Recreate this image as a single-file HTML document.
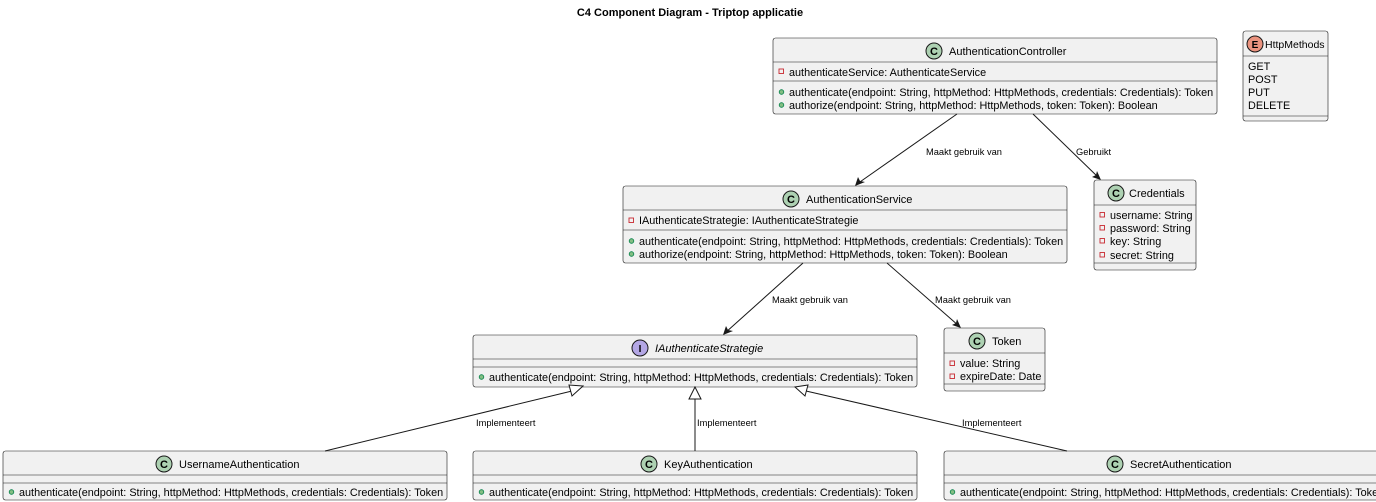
<!DOCTYPE html>
<html><head><meta charset="utf-8"><style>
html,body{margin:0;padding:0;background:#fff;}
svg{display:block;font-family:"Liberation Sans",Arial,sans-serif;}
.b{fill:#F1F1F1;stroke:#181818;stroke-width:0.6;}
.s{stroke:#181818;stroke-width:0.6;}
.t{font-size:10.85px;fill:#000;}
.l{font-size:9.3px;fill:#000;}
.h{font-size:11px;fill:#000;}
.e{stroke:#181818;stroke-width:1;fill:none;}
.pr{fill:none;stroke:#C82930;stroke-width:0.9;}
.pu{fill:#84BE84;stroke:#038048;stroke-width:0.8;}
</style></head><body>
<svg width="1376" height="502" viewBox="0 0 1376 502">
<text x="690" y="16" text-anchor="middle" style="font-size:11px;font-weight:bold">C4 Component Diagram - Triptop applicatie</text>

<!-- AuthenticationController -->
<rect class="b" x="773" y="38" width="444" height="76" rx="2.5"/>
<line class="s" x1="773" y1="62" x2="1217" y2="62"/>
<line class="s" x1="773" y1="81" x2="1217" y2="81"/>
<circle cx="934" cy="51" r="8" fill="#ADD1B2" stroke="#181818" stroke-width="1"/>
<text x="934" y="55" text-anchor="middle" style="font-size:11px;font-weight:bold">C</text>
<text class="h" x="949" y="55">AuthenticationController</text>
<rect class="pr" x="779" y="69" width="4.5" height="4.5"/>
<text class="t" x="789" y="76">authenticateService: AuthenticateService</text>
<circle class="pu" cx="781.5" cy="92" r="2.3"/>
<text class="t" x="789" y="96">authenticate(endpoint: String, httpMethod: HttpMethods, credentials: Credentials): Token</text>
<circle class="pu" cx="781.5" cy="105" r="2.3"/>
<text class="t" x="789" y="109">authorize(endpoint: String, httpMethod: HttpMethods, token: Token): Boolean</text>

<!-- HttpMethods -->
<rect class="b" x="1243" y="31" width="85" height="90" rx="2.5"/>
<line class="s" x1="1243" y1="56" x2="1328" y2="56"/>
<line class="s" x1="1243" y1="116" x2="1328" y2="116"/>
<circle cx="1255" cy="44" r="8" fill="#EB937F" stroke="#181818" stroke-width="1"/>
<text x="1255" y="48" text-anchor="middle" style="font-size:10px;font-weight:bold">E</text>
<text x="1265" y="48" style="font-size:10.5px">HttpMethods</text>
<text class="t" x="1248" y="70">GET</text>
<text class="t" x="1248" y="83">POST</text>
<text class="t" x="1248" y="96">PUT</text>
<text class="t" x="1248" y="109">DELETE</text>

<!-- AuthenticationService -->
<rect class="b" x="623" y="186" width="444" height="77" rx="2.5"/>
<line class="s" x1="623" y1="210" x2="1067" y2="210"/>
<line class="s" x1="623" y1="230" x2="1067" y2="230"/>
<circle cx="791" cy="199" r="8" fill="#ADD1B2" stroke="#181818" stroke-width="1"/>
<text x="791" y="203" text-anchor="middle" style="font-size:11px;font-weight:bold">C</text>
<text class="h" x="806" y="203">AuthenticationService</text>
<rect class="pr" x="629" y="218" width="4.5" height="4.5"/>
<text class="t" x="639" y="224">IAuthenticateStrategie: IAuthenticateStrategie</text>
<circle class="pu" cx="631.5" cy="241" r="2.3"/>
<text class="t" x="639" y="245">authenticate(endpoint: String, httpMethod: HttpMethods, credentials: Credentials): Token</text>
<circle class="pu" cx="631.5" cy="254" r="2.3"/>
<text class="t" x="639" y="258">authorize(endpoint: String, httpMethod: HttpMethods, token: Token): Boolean</text>

<!-- Credentials -->
<rect class="b" x="1094" y="180" width="102" height="90" rx="2.5"/>
<line class="s" x1="1094" y1="205" x2="1196" y2="205"/>
<line class="s" x1="1094" y1="263" x2="1196" y2="263"/>
<circle cx="1116" cy="193" r="8" fill="#ADD1B2" stroke="#181818" stroke-width="1"/>
<text x="1116" y="197" text-anchor="middle" style="font-size:11px;font-weight:bold">C</text>
<text class="h" x="1129" y="197">Credentials</text>
<rect class="pr" x="1100" y="212.5" width="4.5" height="4.5"/>
<text class="t" x="1110" y="219">username: String</text>
<rect class="pr" x="1100" y="225.5" width="4.5" height="4.5"/>
<text class="t" x="1110" y="232">password: String</text>
<rect class="pr" x="1100" y="238.5" width="4.5" height="4.5"/>
<text class="t" x="1110" y="245">key: String</text>
<rect class="pr" x="1100" y="252.5" width="4.5" height="4.5"/>
<text class="t" x="1110" y="259">secret: String</text>

<!-- IAuthenticateStrategie -->
<rect class="b" x="473" y="335" width="444" height="52" rx="2.5"/>
<line class="s" x1="473" y1="359" x2="917" y2="359"/>
<line class="s" x1="473" y1="367" x2="917" y2="367"/>
<circle cx="640" cy="348" r="8" fill="#B4A7E5" stroke="#181818" stroke-width="1"/>
<text x="640" y="352" text-anchor="middle" style="font-size:10px;font-weight:bold">I</text>
<text class="h" x="655" y="352" font-style="italic">IAuthenticateStrategie</text>
<circle class="pu" cx="481.5" cy="377" r="2.3"/>
<text class="t" x="489" y="381">authenticate(endpoint: String, httpMethod: HttpMethods, credentials: Credentials): Token</text>

<!-- Token -->
<rect class="b" x="944" y="328" width="101" height="63" rx="2.5"/>
<line class="s" x1="944" y1="353" x2="1045" y2="353"/>
<line class="s" x1="944" y1="384" x2="1045" y2="384"/>
<circle cx="977" cy="341" r="8" fill="#ADD1B2" stroke="#181818" stroke-width="1"/>
<text x="977" y="345" text-anchor="middle" style="font-size:11px;font-weight:bold">C</text>
<text class="h" x="992" y="345">Token</text>
<rect class="pr" x="950" y="361" width="4.5" height="4.5"/>
<text class="t" x="960" y="367">value: String</text>
<rect class="pr" x="950" y="374" width="4.5" height="4.5"/>
<text class="t" x="960" y="380">expireDate: Date</text>

<!-- Bottom classes -->
<rect class="b" x="3" y="451" width="444" height="49" rx="2.5"/>
<line class="s" x1="3" y1="475" x2="447" y2="475"/>
<line class="s" x1="3" y1="483" x2="447" y2="483"/>
<circle cx="164" cy="464" r="8" fill="#ADD1B2" stroke="#181818" stroke-width="1"/>
<text x="164" y="468" text-anchor="middle" style="font-size:11px;font-weight:bold">C</text>
<text class="h" x="179" y="468">UsernameAuthentication</text>
<circle class="pu" cx="11.5" cy="492" r="2.3"/>
<text class="t" x="19" y="496">authenticate(endpoint: String, httpMethod: HttpMethods, credentials: Credentials): Token</text>

<rect class="b" x="473" y="451" width="444" height="49" rx="2.5"/>
<line class="s" x1="473" y1="475" x2="917" y2="475"/>
<line class="s" x1="473" y1="483" x2="917" y2="483"/>
<circle cx="649" cy="464" r="8" fill="#ADD1B2" stroke="#181818" stroke-width="1"/>
<text x="649" y="468" text-anchor="middle" style="font-size:11px;font-weight:bold">C</text>
<text class="h" x="664" y="468">KeyAuthentication</text>
<circle class="pu" cx="481.5" cy="492" r="2.3"/>
<text class="t" x="489" y="496">authenticate(endpoint: String, httpMethod: HttpMethods, credentials: Credentials): Token</text>

<rect class="b" x="944" y="451" width="444" height="49" rx="2.5"/>
<line class="s" x1="944" y1="475" x2="1388" y2="475"/>
<line class="s" x1="944" y1="483" x2="1388" y2="483"/>
<circle cx="1115" cy="464" r="8" fill="#ADD1B2" stroke="#181818" stroke-width="1"/>
<text x="1115" y="468" text-anchor="middle" style="font-size:11px;font-weight:bold">C</text>
<text class="h" x="1130" y="468">SecretAuthentication</text>
<circle class="pu" cx="952.5" cy="492" r="2.3"/>
<text class="t" x="960" y="496">authenticate(endpoint: String, httpMethod: HttpMethods, credentials: Credentials): Token</text>

<!-- Edges -->
<line class="e" x1="957" y1="114" x2="857" y2="184"/>
<path d="M855,186 L858,177 L860,181 L865,182 Z" fill="#181818"/>
<text class="l" x="926" y="155">Maakt gebruik van</text>

<line class="e" x1="1033" y1="114" x2="1099" y2="178"/>
<path d="M1101,180 L1092,177 L1096,175 L1097,171 Z" fill="#181818"/>
<text class="l" x="1076" y="155">Gebruikt</text>

<line class="e" x1="803" y1="263" x2="725" y2="333"/>
<path d="M723,335 L726,326 L728,330 L733,331 Z" fill="#181818"/>
<text class="l" x="772" y="303">Maakt gebruik van</text>

<line class="e" x1="887" y1="263" x2="959" y2="326"/>
<path d="M961,328 L952,325 L956,323 L957,319 Z" fill="#181818"/>
<text class="l" x="935" y="303">Maakt gebruik van</text>

<line class="e" x1="325" y1="451" x2="572" y2="391"/>
<path d="M583,386 L569,385 L572,396 Z" fill="#fff" stroke="#181818" stroke-width="1"/>
<text class="l" x="476" y="426">Implementeert</text>

<line class="e" x1="695" y1="451" x2="695" y2="399"/>
<path d="M695,387 L689,399 L701,399 Z" fill="#fff" stroke="#181818" stroke-width="1"/>
<text class="l" x="697" y="426">Implementeert</text>

<line class="e" x1="1067" y1="451" x2="806" y2="391"/>
<path d="M795,387 L805,396 L808,385 Z" fill="#fff" stroke="#181818" stroke-width="1"/>
<text class="l" x="962" y="426">Implementeert</text>
</svg>
</body></html>
